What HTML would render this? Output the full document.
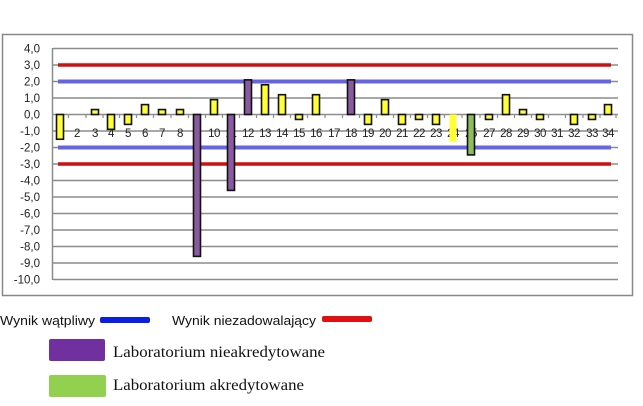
<!DOCTYPE html>
<html><head><meta charset="utf-8"><style>
body{margin:0;background:#fff;width:643px;height:406px;overflow:hidden}
svg{display:block}
</style></head><body>
<svg width="643" height="406" viewBox="0 0 643 406" xmlns="http://www.w3.org/2000/svg">
<rect x="0" y="0" width="643" height="406" fill="#fff"/>
<rect x="2.5" y="34.5" width="630" height="261" fill="#fff" stroke="#888" stroke-width="1.5"/>
<g stroke="#8c8c8c" stroke-width="1.5">
<line x1="53" y1="48.5" x2="618" y2="48.5"/>
<line x1="53" y1="65" x2="618" y2="65"/>
<line x1="53" y1="81.5" x2="618" y2="81.5"/>
<line x1="53" y1="98" x2="618" y2="98"/>
<line x1="53" y1="114.5" x2="618" y2="114.5"/>
<line x1="53" y1="131" x2="618" y2="131"/>
<line x1="53" y1="147.5" x2="618" y2="147.5"/>
<line x1="53" y1="164" x2="618" y2="164"/>
<line x1="53" y1="180.5" x2="618" y2="180.5"/>
<line x1="53" y1="197" x2="618" y2="197"/>
<line x1="53" y1="213.5" x2="618" y2="213.5"/>
<line x1="53" y1="230" x2="618" y2="230"/>
<line x1="53" y1="246.5" x2="618" y2="246.5"/>
<line x1="53" y1="263" x2="618" y2="263"/>
<line x1="53" y1="279.5" x2="618" y2="279.5"/>
<line x1="52.5" y1="48" x2="52.5" y2="280"/>
</g>
<g stroke="#8c8c8c" stroke-width="1.2">
<path d="M68.5 114v4M86 114v4M103 114v4M119.5 114v4M136.5 114v4M153.5 114v4M171 114v4M188.5 114v4M205.5 114v4M222.5 114v4M239.5 114v4M256.5 114v4M273.5 114v4M290.5 114v4M307.5 114v4M325 114v4M342.5 114v4M359.5 114v4M376.5 114v4M393.5 114v4M410.5 114v4M427.5 114v4M444.5 114v4M462 114v4M480 114v4M497.5 114v4M514.5 114v4M531.5 114v4M548.5 114v4M565.5 114v4M583 114v4M600 114v4M616 114v4"/>
</g>
<g font-family="Liberation Sans, sans-serif" font-size="11.5" fill="#222" text-anchor="end">
<text x="40" y="52.5">4,0</text><text x="40" y="69">3,0</text><text x="40" y="85.5">2,0</text><text x="40" y="102">1,0</text><text x="40" y="118.5">0,0</text>
<text x="40" y="135">-1,0</text><text x="40" y="151.5">-2,0</text><text x="40" y="168">-3,0</text><text x="40" y="184.5">-4,0</text><text x="40" y="201">-5,0</text>
<text x="40" y="217.5">-6,0</text><text x="40" y="234">-7,0</text><text x="40" y="250.5">-8,0</text><text x="40" y="267">-9,0</text><text x="40" y="283.5">-10,0</text>
</g>
<g font-family="Liberation Sans, sans-serif" font-size="11.5" fill="#222" text-anchor="middle" letter-spacing="-0.5">
<text x="60" y="137">1</text><text x="77" y="137">2</text><text x="95" y="137">3</text><text x="111" y="137">4</text><text x="128" y="137">5</text><text x="145" y="137">6</text><text x="162" y="137">7</text><text x="180" y="137">8</text><text x="197" y="137">9</text><text x="214" y="137">10</text><text x="231" y="137">11</text><text x="248" y="137">12</text><text x="265" y="137">13</text><text x="282" y="137">14</text><text x="299" y="137">15</text><text x="316" y="137">16</text><text x="334" y="137">17</text><text x="351" y="137">18</text><text x="368" y="137">19</text><text x="385" y="137">20</text><text x="402" y="137">21</text><text x="419" y="137">22</text><text x="436" y="137">23</text><text x="453" y="137">24</text><text x="471" y="137">25</text><text x="489" y="137">27</text><text x="506" y="137">28</text><text x="523" y="137">29</text><text x="540" y="137">30</text><text x="557" y="137">31</text><text x="574" y="137">32</text><text x="592" y="137">33</text><text x="608" y="137">34</text>
</g>
<line x1="58" y1="65" x2="611" y2="65" stroke="#cc1111" stroke-width="3.5"/>
<line x1="58" y1="164" x2="611" y2="164" stroke="#cc1111" stroke-width="3.5"/>
<line x1="58" y1="81.5" x2="611" y2="81.5" stroke="#6464e6" stroke-width="4"/>
<line x1="58" y1="147.5" x2="611" y2="147.5" stroke="#6464e6" stroke-width="4"/>
<g stroke="#111" stroke-width="1.6" fill="#ffff33">
<rect x="56.5" y="114.5" width="7" height="24.75"/>
<rect x="91.5" y="109.55" width="7" height="4.95"/>
<rect x="107.5" y="114.5" width="7" height="14.85"/>
<rect x="124.5" y="114.5" width="7" height="9.9"/>
<rect x="141.5" y="104.6" width="7" height="9.9"/>
<rect x="158.5" y="109.55" width="7" height="4.95"/>
<rect x="176.5" y="109.55" width="7" height="4.95"/>
<rect x="193.5" y="114.5" width="7" height="141.9" fill="#8a5aa0"/>
<rect x="210.5" y="99.65" width="7" height="14.85"/>
<rect x="227.5" y="114.5" width="7" height="75.9" fill="#8a5aa0"/>
<rect x="244.5" y="79.85" width="7" height="34.65" fill="#8a5aa0"/>
<rect x="261.5" y="84.8" width="7" height="29.7"/>
<rect x="278.5" y="94.7" width="7" height="19.8"/>
<rect x="295.5" y="114.5" width="7" height="4.95"/>
<rect x="312.5" y="94.7" width="7" height="19.8"/>
<rect x="347.5" y="79.85" width="7" height="34.65" fill="#8a5aa0"/>
<rect x="364.5" y="114.5" width="7" height="9.9"/>
<rect x="381.5" y="99.65" width="7" height="14.85"/>
<rect x="398.5" y="114.5" width="7" height="9.9"/>
<rect x="415.5" y="114.5" width="7" height="4.95"/>
<rect x="432.5" y="114.5" width="7" height="9.9"/>
<rect x="449.5" y="114.5" width="7" height="27.2" stroke="none"/>
<rect x="467.5" y="114.5" width="7" height="40.4" fill="#8dbd5a"/>
<rect x="485.5" y="114.5" width="7" height="4.95"/>
<rect x="502.5" y="94.7" width="7" height="19.8"/>
<rect x="519.5" y="109.55" width="7" height="4.95"/>
<rect x="536.5" y="114.5" width="7" height="4.95"/>
<rect x="570.5" y="114.5" width="7" height="9.9"/>
<rect x="588.5" y="114.5" width="7" height="4.95"/>
<rect x="604.5" y="104.6" width="7" height="9.9"/>
</g>
<g font-family="Liberation Sans, sans-serif" font-size="13" fill="#111">
<text x="0" y="325" textLength="95" lengthAdjust="spacingAndGlyphs">Wynik wątpliwy</text>
<text x="172" y="325" textLength="144" lengthAdjust="spacingAndGlyphs">Wynik niezadowalający</text>
</g>
<rect x="100" y="317" width="50" height="6" rx="2" fill="#0a1ee6"/>
<rect x="322" y="316" width="50" height="6" rx="2" fill="#e01010"/>
<rect x="49" y="339" width="56" height="22" rx="2" fill="#7030a0"/>
<rect x="49" y="375" width="57" height="22" rx="2" fill="#92d050"/>
<g font-family="Liberation Serif, serif" font-size="16" fill="#111">
<text x="113" y="357" textLength="212" lengthAdjust="spacingAndGlyphs">Laboratorium nieakredytowane</text>
<text x="113" y="390" textLength="191" lengthAdjust="spacingAndGlyphs">Laboratorium akredytowane</text>
</g>
</svg>
</body></html>
